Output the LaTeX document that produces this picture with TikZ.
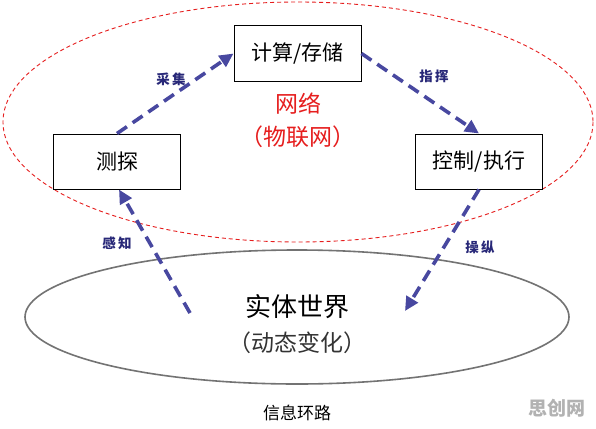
\documentclass[tikz,border=0pt]{standalone}
\usepackage{fontspec}
\newfontfamily\cjk{Noto Sans CJK SC}
\usetikzlibrary{arrows.meta}
\definecolor{arrowblue}{RGB}{72,72,160}
\definecolor{labelblue}{RGB}{40,40,120}
\definecolor{netred}{RGB}{230,30,30}
\begin{document}
\begin{tikzpicture}[x=1pt,y=-1pt,
  box/.style={draw=black,line width=1pt,minimum width=127pt,minimum height=55pt,inner sep=0pt,font=\cjk\fontsize{21}{23}\selectfont},
  flow/.style={draw=arrowblue,line width=3.6pt,dash pattern=on 12pt off 7pt,-{Triangle[length=14pt,width=13pt]}},
  lbl/.style={text=labelblue,font=\cjk\bfseries\fontsize{13.5}{15}\selectfont}
]
\useasboundingbox (0,0) rectangle (596,428);
\fill[white] (0,0) rectangle (596,428);
% ellipses
\draw[netred,line width=0.9pt,dash pattern=on 4pt off 3pt] (298,122) ellipse [x radius=295, y radius=120];
\draw[gray!90!black,line width=1.6pt] (297,317) ellipse [x radius=272, y radius=67];
% boxes
\node[box] (jc) at (297.5,53.5) {计算/存储};
\node[box] (ce) at (117,161.5) {测探};
\node[box] (kz) at (479,161.5) {控制/执行};
% texts
\node[text=netred,font=\cjk\fontsize{23}{26}\selectfont] (net) at (298,104) {网络};
\node[text=netred,font=\cjk\fontsize{23}{26}\selectfont] (iot) at (298,137) {（物联网）};
\node[font=\cjk\fontsize{26}{29}\selectfont] (world) at (297,307) {实体世界};
\node[font=\cjk\fontsize{23}{26}\selectfont,text=black!80] (dyn) at (297,343) {（动态变化）};
\node[font=\cjk\fontsize{17}{20}\selectfont] (loop) at (297,413) {信息环路};
\node[font=\cjk\bfseries\fontsize{19}{22}\selectfont,text=black!30] (wm) at (557,408) {思创网};
% endpoints
\coordinate (sStart) at (190,313);
\coordinate (cEnd) at (405,311);
% arrows
\draw[flow] (ce.north) -- (jc.west);
\draw[flow] (jc.east) -- (kz.north);
\draw[flow] (kz.south) -- (cEnd);
\draw[flow] (sStart) -- ([xshift=2pt]ce.south);
% labels
\node[lbl] (l1) at (171,79) {采\,集};
\node[lbl] (l2) at (434,76) {指\,挥};
\node[lbl] (l3) at (117,243) {感\,知};
\node[lbl] (l4) at (480,247) {操\,纵};
\end{tikzpicture}
\end{document}
